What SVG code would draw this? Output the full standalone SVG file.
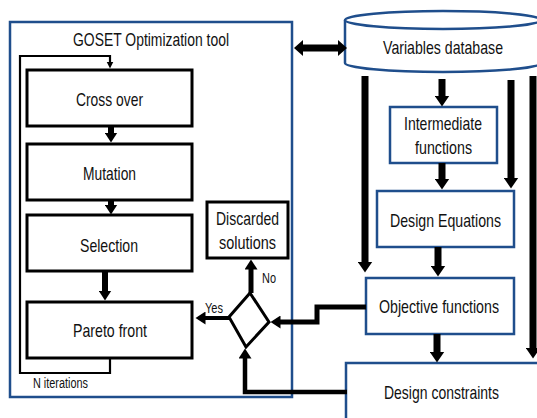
<svg xmlns="http://www.w3.org/2000/svg" width="537" height="418" viewBox="0 0 537 418">
<defs>
<style>
.t{font-family:"Liberation Sans",Arial,sans-serif;font-size:19px;fill:#111;text-anchor:start}
.s{font-family:"Liberation Sans",Arial,sans-serif;font-size:14px;fill:#111}
.bb{fill:#fff;stroke:#000;stroke-width:3}
.blue{fill:#fff;stroke:#1F4E8C;stroke-width:2.5}
.c{fill:none;stroke:#000;stroke-linejoin:miter}
</style>
<marker id="ah" markerUnits="userSpaceOnUse" markerWidth="12" markerHeight="15" refX="0.5" refY="7.5" orient="auto">
<path d="M0,0 L11,7.5 L0,15 z" fill="#000"/>
</marker>
<marker id="am" markerUnits="userSpaceOnUse" markerWidth="11" markerHeight="13" refX="0.5" refY="6.5" orient="auto">
<path d="M0,0 L10,6.5 L0,13 z" fill="#000"/>
</marker>
<marker id="as" markerUnits="userSpaceOnUse" markerWidth="8" markerHeight="8" refX="0.5" refY="3.5" orient="auto">
<path d="M0,0 L7,3.5 L0,7 z" fill="#000"/>
</marker>
</defs>
<rect width="537" height="418" fill="#fff"/>

<g id="goset-tool">
<rect x="10" y="22" width="282" height="375" class="blue"/>
<text class="t" x="73" y="46" textLength="156" lengthAdjust="spacingAndGlyphs">GOSET Optimization tool</text>
</g>

<g id="variables-database">
<path d="M345,20 L345,63 A98,9 0 0 0 541,63 L541,20" class="blue"/>
<ellipse cx="443" cy="20" rx="98" ry="9" class="blue"/>
<text class="t" x="383" y="54" textLength="120" lengthAdjust="spacingAndGlyphs">Variables database</text>
</g>

<g id="cross-over">
<rect x="27" y="70" width="165" height="56" class="bb"/>
<text class="t" x="76" y="106" textLength="67" lengthAdjust="spacingAndGlyphs">Cross over</text>
</g>
<g id="mutation">
<rect x="27" y="144" width="165" height="56" class="bb"/>
<text class="t" x="83" y="180" textLength="53" lengthAdjust="spacingAndGlyphs">Mutation</text>
</g>
<g id="selection">
<rect x="27" y="215" width="165" height="56" class="bb"/>
<text class="t" x="80" y="252" textLength="58" lengthAdjust="spacingAndGlyphs">Selection</text>
</g>
<g id="pareto-front">
<rect x="27" y="302" width="165" height="56" class="bb"/>
<text class="t" x="73" y="337" textLength="74" lengthAdjust="spacingAndGlyphs">Pareto front</text>
</g>
<g id="discarded-solutions">
<rect x="207" y="202" width="81" height="56" class="bb"/>
<text class="t" x="216" y="225" textLength="63" lengthAdjust="spacingAndGlyphs">Discarded</text>
<text class="t" x="219" y="249" textLength="57" lengthAdjust="spacingAndGlyphs">solutions</text>
</g>
<g id="decision">
<polygon points="250,293 269,322 246,347 229,317" fill="#fff" stroke="#000" stroke-width="3" stroke-linejoin="miter"/>
</g>

<g id="intermediate-functions">
<rect x="390" y="107" width="107" height="56" class="blue"/>
<text class="t" x="404" y="130" textLength="78" lengthAdjust="spacingAndGlyphs">Intermediate</text>
<text class="t" x="415" y="154" textLength="57" lengthAdjust="spacingAndGlyphs">functions</text>
</g>
<g id="design-equations">
<rect x="377" y="191" width="137" height="56" class="blue"/>
<text class="t" x="390" y="227" textLength="111" lengthAdjust="spacingAndGlyphs">Design Equations</text>
</g>
<g id="objective-functions">
<rect x="366" y="278" width="148" height="56" class="blue"/>
<text class="t" x="379" y="313" textLength="120" lengthAdjust="spacingAndGlyphs">Objective functions</text>
</g>
<g id="design-constraints">
<rect x="346" y="363" width="200" height="70" class="blue"/>
<text class="t" x="384" y="399" textLength="115" lengthAdjust="spacingAndGlyphs">Design constraints</text>
</g>

<g id="connectors">
<polyline class="c" stroke-width="2.2" points="110,358 110,373 20,373 20,56 110,56 110,62" marker-end="url(#as)"/>
<line class="c" stroke-width="6" x1="111" y1="127" x2="111" y2="133" marker-end="url(#am)"/>
<line class="c" stroke-width="6" x1="111" y1="200" x2="111" y2="205" marker-end="url(#am)"/>
<line class="c" stroke-width="6" x1="105" y1="271" x2="105" y2="291" marker-end="url(#am)"/>
<polygon points="294,48 303,40 303,44.5 338,44.5 338,40 347,48 338,56 338,51.5 303,51.5 303,56" fill="#000"/>
<line class="c" stroke-width="7" x1="365" y1="76" x2="365" y2="262" marker-end="url(#ah)"/>
<line class="c" stroke-width="7" x1="511" y1="80" x2="511" y2="178" marker-end="url(#ah)"/>
<line class="c" stroke-width="7" x1="533" y1="76" x2="533" y2="348" marker-end="url(#ah)"/>
<line class="c" stroke-width="7" x1="442" y1="79" x2="442" y2="96" marker-end="url(#ah)"/>
<line class="c" stroke-width="7" x1="442" y1="163" x2="442" y2="179" marker-end="url(#ah)"/>
<line class="c" stroke-width="7" x1="438" y1="247" x2="438" y2="266" marker-end="url(#ah)"/>
<line class="c" stroke-width="7" x1="437" y1="334" x2="437" y2="352" marker-end="url(#ah)"/>
<polyline class="c" stroke-width="5" points="366,307 317,307 317,322 280,322" marker-end="url(#am)"/>
<polyline class="c" stroke-width="4.5" points="347,392 245,392 245,358" marker-end="url(#am)"/>
<line class="c" stroke-width="4" x1="229" y1="318" x2="205" y2="318" marker-end="url(#am)"/>
<line class="c" stroke-width="5" x1="251" y1="293" x2="251" y2="269" marker-end="url(#am)"/>
</g>

<g id="labels">
<text class="s" x="33" y="388" textLength="55" lengthAdjust="spacingAndGlyphs">N iterations</text>
<text class="s" x="262" y="283" textLength="14" lengthAdjust="spacingAndGlyphs">No</text>
<text class="s" x="205" y="313" textLength="18" lengthAdjust="spacingAndGlyphs">Yes</text>
</g>
</svg>
